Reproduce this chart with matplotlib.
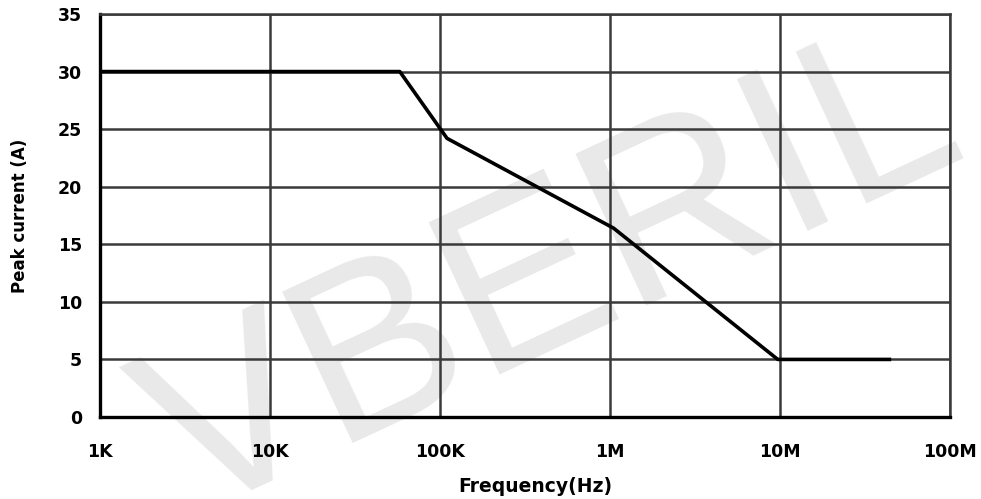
import numpy as np
import matplotlib.pyplot as plt

# frequency (Hz) vs peak current (A), corner points
freq = [1e3, 58e3, 110e3, 1.05e6, 9.7e6, 44e6]
current = [30, 30, 24.2, 16.4, 5, 5]

xticks = [1e3, 1e4, 1e5, 1e6, 1e7, 1e8]
xticklabels = ['1K', '10K', '100K', '1M', '10M', '100M']
yticks = [0, 5, 10, 15, 20, 25, 30, 35]

plt.rcParams['font.family'] = ['DejaVu Sans']
plt.rcParams['font.weight'] = 'bold'

fig = plt.figure(figsize=(9.81, 4.99), dpi=100)
ax = fig.add_axes([100/981, 1-417/499, 850/981, 403/499])
ax.set_zorder(2)
ax.patch.set_alpha(0)

# faint watermark behind everything
fig.text(0.565, 0.44, 'VBERIL', fontsize=175, color='#e9e9e9', rotation=25,
         ha='center', va='center', fontweight='normal', zorder=0,
         family='Liberation Sans')

ax.plot(freq, current, color='black', lw=2.6, zorder=3)

ax.set_xscale('log')
ax.set_xlim(1e3, 1e8)
ax.set_ylim(0, 35)
ax.set_xticks(xticks)
ax.set_xticklabels(xticklabels)
ax.minorticks_off()
ax.set_yticks(yticks)
ax.grid(True, color='#3a3a3a', lw=1.8)
ax.tick_params(length=0, labelsize=12.5)
ax.tick_params(axis='y', pad=13)
ax.tick_params(axis='x', pad=19)

for s in ['left', 'bottom']:
    ax.spines[s].set_linewidth(2.4)
for s in ['right', 'top']:
    ax.spines[s].set_linewidth(1.8)
    ax.spines[s].set_color('#3a3a3a')

ax.set_xlabel('Frequency(Hz)', fontsize=13.5, fontweight='bold')
ax.xaxis.set_label_coords(0.512, -0.150)
ax.set_ylabel('Peak current (A)', fontsize=12, fontweight='bold', labelpad=21)

fig.savefig('out.png', dpi=100)
